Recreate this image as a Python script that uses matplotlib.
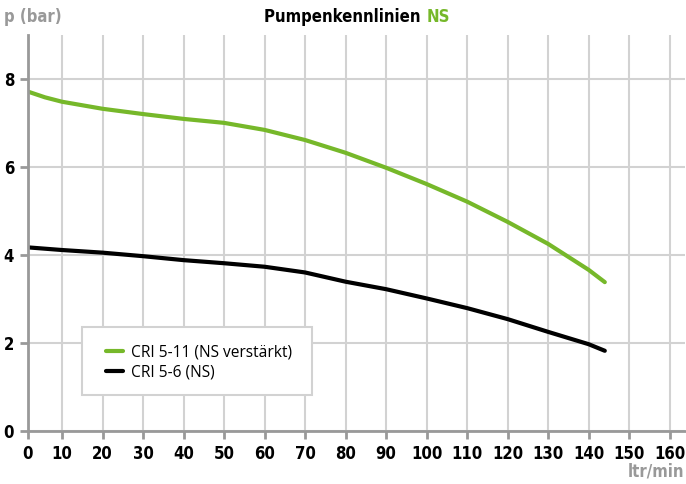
import matplotlib
matplotlib.use("Agg")
import matplotlib.pyplot as plt
import numpy as np
from matplotlib.font_manager import FontProperties
from matplotlib.patches import Rectangle

flow = [0, 5, 10, 20, 30, 40, 50, 60, 70, 80, 90, 100, 110, 120, 130, 140, 144]
p_cri_5_11 = [7.72, 7.59, 7.49, 7.33, 7.21, 7.10, 7.01, 6.85, 6.62, 6.33, 5.99, 5.62, 5.22, 4.76, 4.26, 3.67, 3.39]
p_cri_5_6 = [4.18, 4.15, 4.12, 4.06, 3.98, 3.89, 3.82, 3.74, 3.61, 3.40, 3.23, 3.02, 2.80, 2.55, 2.26, 1.98, 1.83]
x_ticks = list(range(0, 161, 10))
y_ticks = [0, 2, 4, 6, 8]

GREEN = "#76b82a"
GRAY = "#999999"
GRID = "#d2d2d2"
BOLDC = dict(family="DejaVu Sans", stretch="condensed", weight="bold")
W, H = 686, 484


# the first 10 ltr/min are squeezed on the original axis
def fwd(x):
    x = np.asarray(x, dtype=float)
    return np.where(x < 10, 1.6 + x * 0.84, x)


def inv(x):
    x = np.asarray(x, dtype=float)
    return np.where(x < 10, (x - 1.6) / 0.84, x)


fig = plt.figure(figsize=(W / 100, H / 100), dpi=100)
ax = fig.add_axes([28 / W, 52.7 / H, 657 / W, 396 / H])
ax.set_xscale("function", functions=(fwd, inv))

ax.plot(flow, p_cri_5_11, color=GREEN, lw=3, solid_capstyle="round", solid_joinstyle="round",
        label="CRI 5-11 (NS verstärkt)")
ax.plot(flow, p_cri_5_6, color="black", lw=3, solid_capstyle="round", solid_joinstyle="round",
        label="CRI 5-6 (NS)")

ax.set_xlim(0, 163.8)
ax.set_ylim(0, 9)
ax.set_xticks(x_ticks)
ax.set_xticklabels([str(v) for v in x_ticks])
ax.set_yticks(y_ticks)
ax.set_yticklabels([str(v) for v in y_ticks])
ax.minorticks_off()
ax.grid(True, color=GRID, lw=1.5)
ax.set_axisbelow(True)

for side in ("top", "right"):
    ax.spines[side].set_visible(False)
for side in ("left", "bottom"):
    ax.spines[side].set_color(GRAY)
    ax.spines[side].set_linewidth(2)

ax.tick_params(axis="both", length=6, width=2, color=GRAY, direction="out", pad=4)
for lbl in ax.get_xticklabels() + ax.get_yticklabels():
    lbl.set_fontproperties(FontProperties(size=12, **BOLDC))

# legend box drawn separately so its padding can match the original
box = Rectangle((82 / W, 1 - 395 / H), (311.7 - 82) / W, (395 - 327.3) / H,
                transform=fig.transFigure, facecolor="white",
                edgecolor=GRID, lw=1.5, zorder=4, clip_on=False)
ax.add_patch(box)
leg = ax.legend(loc="center left", bbox_to_anchor=(98 / W, 1 - 362.5 / H),
                bbox_transform=fig.transFigure, frameon=False,
                prop={"family": "Open Sans", "size": 11.2}, handlelength=1.1,
                borderpad=0, labelspacing=0.3, handletextpad=0.55)
leg.set_zorder(5)

fig.text(4 / W, 1 - 17 / H, "p (bar)", color=GRAY, fontsize=12, ha="left", va="center", **BOLDC)
fig.text(684 / W, 1 - 471 / H, "ltr/min", color=GRAY, fontsize=12, ha="right", va="center", **BOLDC)

t1 = fig.text(0, 1 - 17 / H, "Pumpenkennlinien ", color="black", fontsize=12,
              ha="left", va="center", **BOLDC)
t2 = fig.text(0, 1 - 17 / H, "NS", color=GREEN, fontsize=12, ha="left", va="center", **BOLDC)
fig.canvas.draw()
w1 = t1.get_window_extent().width
w2 = t2.get_window_extent().width
x0 = 357 - (w1 + w2) / 2
t1.set_x(x0 / W)
t2.set_x((x0 + w1) / W)

fig.savefig("out.png", dpi=100)
